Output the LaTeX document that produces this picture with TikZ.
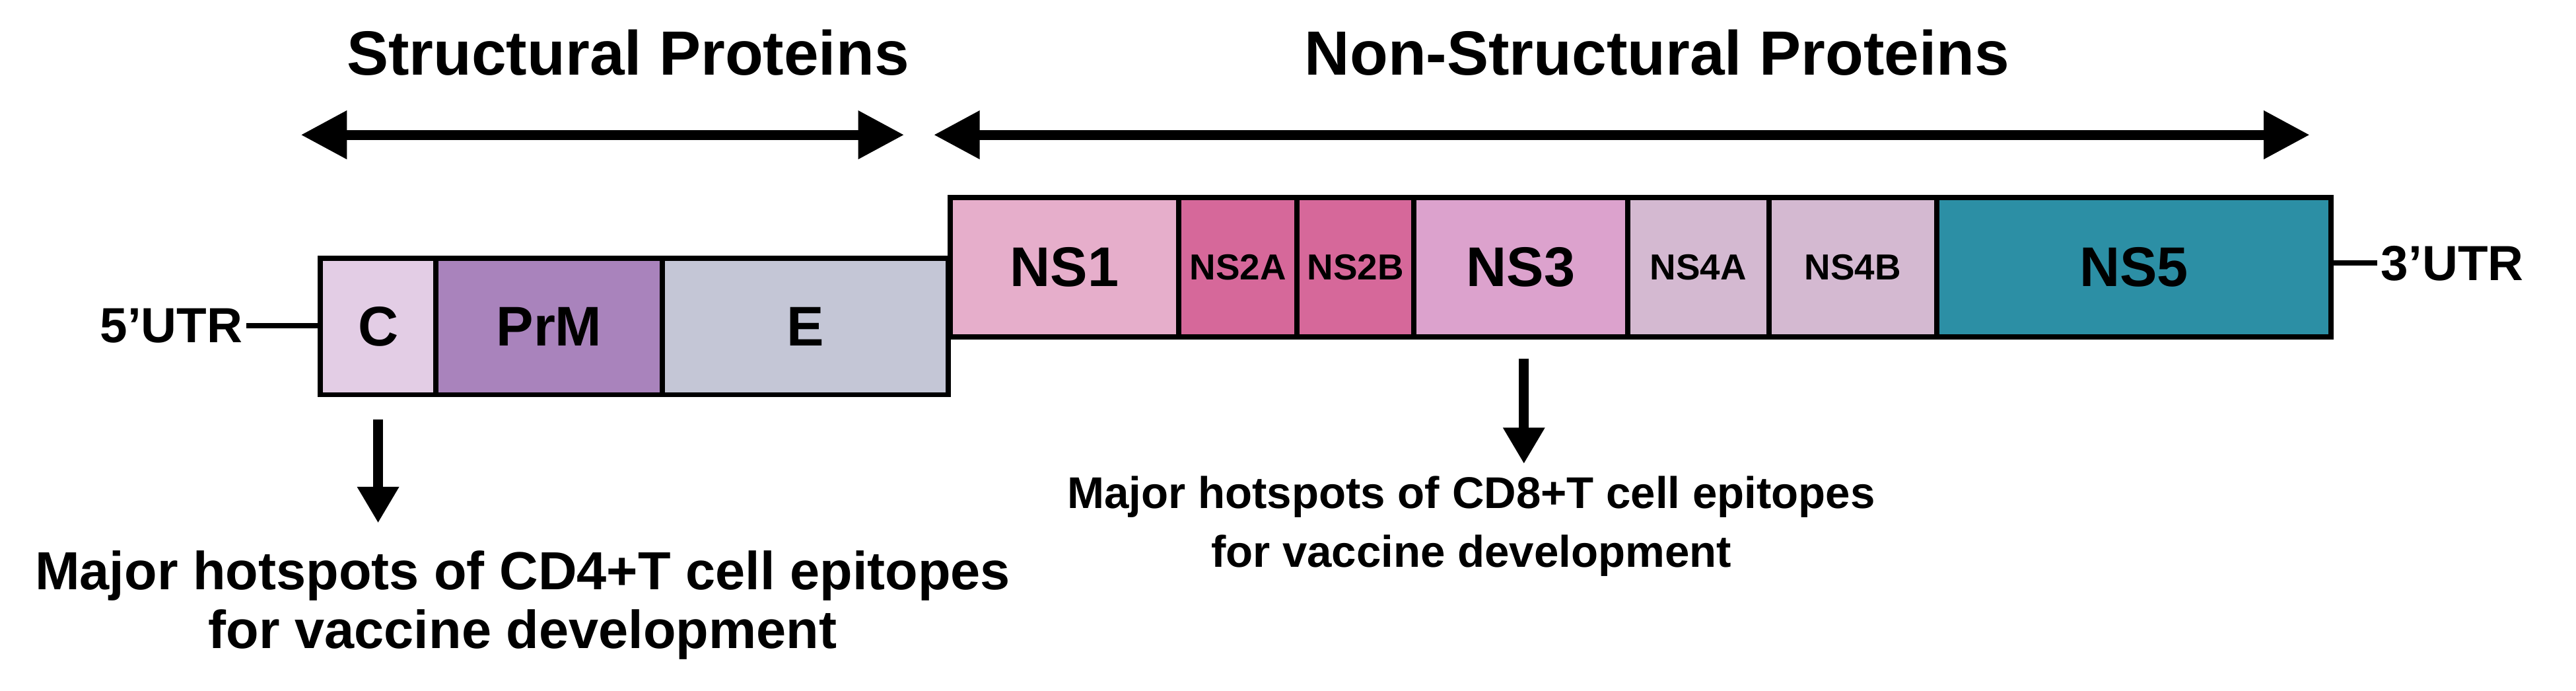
\documentclass[tikz,border=0pt]{standalone}
\usepackage{fontspec}
\setmainfont{Liberation Sans}
\usetikzlibrary{arrows.meta}
\definecolor{cC}{HTML}{E3CDE5}\definecolor{cPrM}{HTML}{A983BC}\definecolor{cE}{HTML}{C4C6D6}
\definecolor{cNSa}{HTML}{E6AECB}\definecolor{cNSb}{HTML}{D6689A}\definecolor{cNSc}{HTML}{DCA2CD}
\definecolor{cNSd}{HTML}{D4B9D1}\definecolor{cNSe}{HTML}{2C8FA5}
\begin{document}
\begin{tikzpicture}[x=0.5pt,y=-0.5pt,
 box/.style={draw=black,line width=1.6pt,inner sep=0pt},
 bl/.style={font=\bfseries\fontsize{17}{20}\selectfont},
 sl/.style={font=\bfseries\fontsize{11}{13}\selectfont},
 lbl/.style={align=center}]
\useasboundingbox (0,0) rectangle (1567,420);
\node[font=\bfseries\fontsize{19}{22}\selectfont] (t1) at (382,32) {Structural Proteins};
\node[font=\bfseries\fontsize{19}{22}\selectfont] (t2) at (1008,32) {Non-Structural Proteins};
\coordinate (a1) at (183,82);\coordinate (a2) at (550,82);
\coordinate (b1) at (568,82);\coordinate (b2) at (1405,82);
\draw[{Triangle[length=14pt,width=14pt]}-{Triangle[length=14pt,width=14pt]},line width=3pt] (a1)--(a2);
\draw[{Triangle[length=14pt,width=14pt]}-{Triangle[length=14pt,width=14pt]},line width=3pt] (b1)--(b2);
% lower boxes
\node[box,bl,fill=cC,minimum width=35pt,minimum height=41.5pt] (C) at (230,198.5) {C};
\node[box,bl,fill=cPrM,minimum width=69pt,minimum height=41.5pt] (PrM) at (334,198.5) {PrM};
\node[box,bl,fill=cE,minimum width=87pt,minimum height=41.5pt] (E) at (490,198.5) {E};
% upper boxes
\node[box,bl,fill=cNSa,minimum width=69.5pt,minimum height=42.5pt] (NS1) at (647.5,162.5) {NS1};
\node[box,sl,fill=cNSb,minimum width=36pt,minimum height=42.5pt] (NS2A) at (753,162.5) {NS2A};
\node[box,sl,fill=cNSb,minimum width=35.5pt,minimum height=42.5pt] (NS2B) at (824.5,162.5) {NS2B};
\node[box,bl,fill=cNSc,minimum width=65pt,minimum height=42.5pt] (NS3) at (925,162.5) {NS3};
\node[box,sl,fill=cNSd,minimum width=43pt,minimum height=42.5pt] (NS4A) at (1033,162.5) {NS4A};
\node[box,sl,fill=cNSd,minimum width=51pt,minimum height=42.5pt] (NS4B) at (1127,162.5) {NS4B};
\node[box,bl,fill=cNSe,minimum width=120pt,minimum height=42.5pt] (NS5) at (1298,162.5) {NS5};
% UTRs
\node[font=\bfseries\fontsize{15}{17}\selectfont,anchor=east,inner sep=1pt] (u5) at (150,198) {5’UTR};
\draw[line width=1.6pt] (u5.east)--(C.west|-u5.east);
\node[font=\bfseries\fontsize{15}{17}\selectfont,anchor=west,inner sep=1pt] (u3) at (1446,160) {3’UTR};
\draw[line width=1.6pt] (NS5.east|-u3.west)--(u3.west);
% down arrows
\coordinate (d1) at (230,255);\coordinate (d1e) at (230,318);
\draw[-{Triangle[length=11pt,width=12pt]},line width=3pt] (d1)--(d1e);
\coordinate (d2) at (927,218);\coordinate (d2e) at (927,282);
\draw[-{Triangle[length=11pt,width=12pt]},line width=3pt] (d2)--(d2e);
\node[lbl,font=\bfseries\fontsize{16.3}{18}\selectfont] (L1) at (318,368) {Major hotspots of CD4+T cell epitopes\\for vaccine development};
\node[lbl,font=\bfseries\fontsize{13.5}{18}\selectfont] (L2) at (895,320) {Major hotspots of CD8+T cell epitopes\\for vaccine development};
\end{tikzpicture}
\end{document}
